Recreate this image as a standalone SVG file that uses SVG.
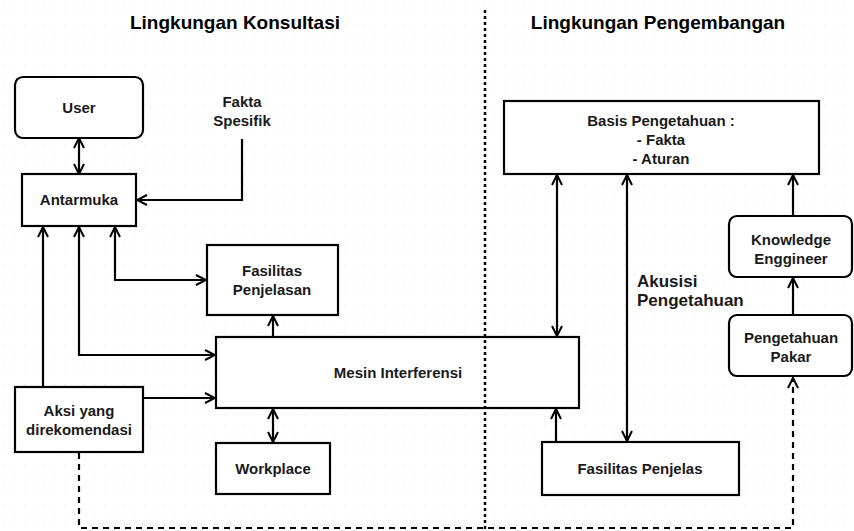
<svg xmlns="http://www.w3.org/2000/svg" width="854" height="531" viewBox="0 0 854 531">
<defs>
<marker id="arr" viewBox="0 0 12 12" refX="11" refY="6" markerWidth="12" markerHeight="12" markerUnits="userSpaceOnUse" orient="auto-start-reverse">
<path d="M1,1 L11,6 L1,11" fill="none" stroke="#000" stroke-width="2"/>
</marker>
<pattern id="grid" width="10" height="10" patternUnits="userSpaceOnUse">
<rect x="4" y="4" width="1.2" height="1.2" fill="#ececec"/>
</pattern>
</defs>
<style>
.box{fill:#fff;stroke:#000;stroke-width:2.2}
.t{font-family:"Liberation Sans",Arial,sans-serif;font-weight:bold;font-size:15px;fill:#1a1a1a;text-anchor:middle}
.title{font-family:"Liberation Sans",Arial,sans-serif;font-weight:bold;font-size:19px;fill:#000;text-anchor:middle}
.lbl{font-family:"Liberation Sans",Arial,sans-serif;font-weight:bold;font-size:17px;fill:#1a1a1a}
.c{fill:none;stroke:#000;stroke-width:2.2}
.d{fill:none;stroke:#000;stroke-width:2.2;stroke-dasharray:6 5}
.dot{fill:none;stroke:#000;stroke-width:2.5;stroke-dasharray:3 3}
</style>
<rect width="854" height="531" fill="#fff"/>
<rect width="854" height="531" fill="url(#grid)"/>

<text class="title" x="235" y="29">Lingkungan Konsultasi</text>
<text class="title" x="658" y="29">Lingkungan Pengembangan</text>

<g id="connectors">
<line class="c" x1="79" y1="138" x2="79" y2="174" marker-start="url(#arr)" marker-end="url(#arr)"/>
<polyline class="c" points="242,139 242,200 137,200" marker-end="url(#arr)"/>
<line class="c" x1="43" y1="387" x2="43" y2="227" marker-end="url(#arr)"/>
<polyline class="c" points="79,227 79,355 215,355" marker-start="url(#arr)" marker-end="url(#arr)"/>
<polyline class="c" points="115,227 115,280 206,280" marker-start="url(#arr)" marker-end="url(#arr)"/>
<line class="c" x1="143" y1="398" x2="215" y2="398" marker-end="url(#arr)"/>
<line class="c" x1="273" y1="337" x2="273" y2="316" marker-end="url(#arr)"/>
<line class="c" x1="273" y1="409" x2="273" y2="442" marker-start="url(#arr)" marker-end="url(#arr)"/>
<line class="c" x1="557" y1="175" x2="557" y2="336" marker-start="url(#arr)" marker-end="url(#arr)"/>
<line class="c" x1="627" y1="175" x2="627" y2="441" marker-start="url(#arr)" marker-end="url(#arr)"/>
<line class="c" x1="556" y1="442" x2="556" y2="409" marker-end="url(#arr)"/>
<line class="c" x1="793" y1="216" x2="793" y2="175" marker-end="url(#arr)"/>
<line class="c" x1="793" y1="315" x2="793" y2="278" marker-end="url(#arr)"/>
<polyline class="d" points="79,453 79,528 793,528 793,378" marker-end="url(#arr)"/>
</g>

<g id="user"><rect class="box" x="15" y="77" width="128" height="61" rx="8"/><text class="t" x="79" y="113">User</text></g>
<g id="fakta"><text class="t" x="242" y="107">Fakta</text><text class="t" x="242" y="126">Spesifik</text></g>
<g id="antarmuka"><rect class="box" x="22" y="174" width="114" height="52"/><text class="t" x="79" y="205">Antarmuka</text></g>
<g id="fasilitas-penjelasan"><rect class="box" x="207" y="245" width="131" height="70"/><text class="t" x="272" y="276">Fasilitas</text><text class="t" x="272" y="295">Penjelasan</text></g>
<g id="mesin"><rect class="box" x="216" y="337" width="363" height="71"/><text class="t" x="398" y="378">Mesin Interferensi</text></g>
<g id="aksi"><rect class="box" x="15" y="387" width="128" height="65"/><text class="t" x="79" y="416">Aksi yang</text><text class="t" x="79" y="435">direkomendasi</text></g>
<g id="workplace"><rect class="box" x="216" y="443" width="114" height="51"/><text class="t" x="273" y="474">Workplace</text></g>
<g id="basis"><rect class="box" x="504" y="101" width="315" height="73"/><text class="t" x="661" y="126">Basis Pengetahuan :</text><text class="t" x="661" y="145">- Fakta</text><text class="t" x="661" y="164">- Aturan</text></g>
<g id="akusisi"><text class="lbl" x="637" y="287">Akusisi</text><text class="lbl" x="637" y="306">Pengetahuan</text></g>
<g id="knowledge"><rect class="box" x="729" y="216" width="123" height="61" rx="8"/><text class="t" x="791" y="245">Knowledge</text><text class="t" x="791" y="264">Enggineer</text></g>
<g id="pakar"><rect class="box" x="729" y="315" width="123" height="61" rx="8"/><text class="t" x="791" y="343">Pengetahuan</text><text class="t" x="791" y="362">Pakar</text></g>
<g id="fasilitas-penjelas"><rect class="box" x="542" y="442" width="197" height="53"/><text class="t" x="640" y="474">Fasilitas Penjelas</text></g>

<g id="divider"><line class="dot" x1="485" y1="10" x2="485" y2="531"/></g>
</svg>
